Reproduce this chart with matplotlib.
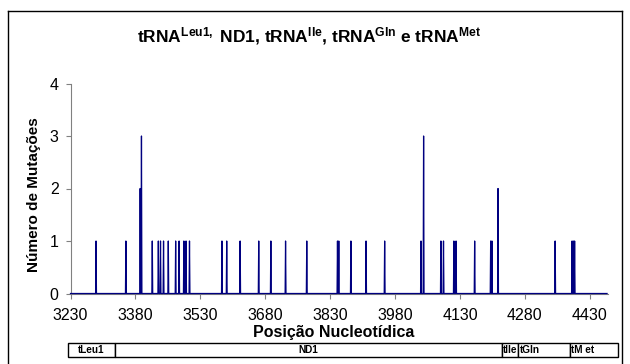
import numpy as np
import matplotlib
matplotlib.use("Agg")
import matplotlib.pyplot as plt
from matplotlib.lines import Line2D
from matplotlib.patches import Rectangle

plt.rcParams['font.family'] = ['Liberation Sans', 'DejaVu Sans']
plt.rcParams['mathtext.fontset'] = 'custom'
plt.rcParams['mathtext.rm'] = 'Liberation Sans'
plt.rcParams['mathtext.bf'] = 'Liberation Sans:bold'
plt.rcParams['mathtext.it'] = 'Liberation Sans:italic'

# ---- data ----
positions = [3289, 3358, 3391, 3394, 3419, 3433, 3438, 3445, 3456, 3473,
             3481, 3492, 3497, 3505, 3580, 3591, 3622, 3665, 3693, 3727,
             3776, 3847, 3850, 3878, 3913, 3956, 4040, 4046, 4086, 4092,
             4116, 4121, 4164, 4201, 4204, 4218, 4350, 4389, 4392, 4395]
mutations = [1, 1, 2, 3, 1, 1, 1, 1, 1, 1,
             1, 1, 1, 1, 1, 1, 1, 1, 1, 1,
             1, 1, 1, 1, 1, 1, 1, 3, 1, 1,
             1, 1, 1, 1, 1, 2, 1, 1, 1, 1]
x_start, x_end = 3230, 4470
x_ticks = [3230, 3380, 3530, 3680, 3830, 3980, 4130, 4280, 4430]
y_ticks = [0, 1, 2, 3, 4]
genes = ["tLeu1", "ND1", "tIle", "tGln", "tM et"]

# full series: every position, zero where no mutation
xs = np.arange(x_start, x_end + 1)
ys = np.zeros_like(xs, dtype=float)
for p, v in zip(positions, mutations):
    ys[p - x_start] = v

W, H = 630, 364
fig = plt.figure(figsize=(W / 100, H / 100), dpi=100)

def fx(px):
    return px / W

def fy(py):
    return 1 - py / H

ax_l, ax_r, ax_t, ax_b = 70.5, 607.5, 83.5, 293.5
ax = fig.add_axes([fx(ax_l), fy(ax_b), fx(ax_r - ax_l), (ax_b - ax_t) / H])

ax.plot(xs, ys, color='#000080', lw=0.9, clip_on=False, zorder=3)
ax.set_xlim(x_start, 4471)
ax.set_ylim(0, 4)
ax.set_xticks(x_ticks)
ax.set_yticks(y_ticks)
for s in ['top', 'right']:
    ax.spines[s].set_visible(False)
ax.spines['left'].set_color('#808080')
ax.spines['bottom'].set_color('#808080')
ax.tick_params(axis='x', direction='out', length=3.6, color='#808080', pad=7, labelsize=11.5)
ax.tick_params(axis='y', direction='out', length=3.6, color='#808080', pad=5, labelsize=11.5)

# title
fig.text(fx(309), fy(36),
         r"tRNA$^{\mathbf{Leu1,}}$ ND1, tRNA$^{\mathbf{Ile}}$, tRNA$^{\mathbf{Gln}}$ e tRNA$^{\mathbf{Met}}$",
         ha='center', va='center', fontsize=12.5, fontweight='bold')

# axis titles
fig.text(fx(34), fy(195), "Número de Mutações", rotation=90, ha='center', va='center',
         fontsize=11, fontweight='bold')
fig.text(fx(334), fy(333), "Posição Nucleotídica", ha='center', va='center',
         fontsize=11.5, fontweight='bold')

# outer frame
fig.add_artist(Line2D([fx(8), fx(8)], [fy(11), 0], transform=fig.transFigure, color='black', lw=1))
fig.add_artist(Line2D([fx(8), fx(622)], [fy(11), fy(11)], transform=fig.transFigure, color='black', lw=1))
fig.add_artist(Line2D([fx(622), fx(622)], [fy(11), 0], transform=fig.transFigure, color='black', lw=1))

# gene map box
box_edges = [68, 115, 502, 518, 570, 618]
box_top, box_bot = 343, 357
label_x = [(68 + 115) / 2, (115 + 502) / 2, 510, 520, 571]
label_ha = ['center', 'center', 'center', 'left', 'left']
for i, g in enumerate(genes):
    l, r = box_edges[i], box_edges[i + 1]
    fig.add_artist(Rectangle((fx(l), fy(box_bot)), fx(r - l), (box_bot - box_top) / H,
                             transform=fig.transFigure, facecolor='white',
                             edgecolor='black', lw=1))
    fig.text(fx(label_x[i]), fy((box_top + box_bot) / 2), g, ha=label_ha[i], va='center',
             fontsize=7.2, fontweight='bold')

fig.savefig("out.png", dpi=100)
